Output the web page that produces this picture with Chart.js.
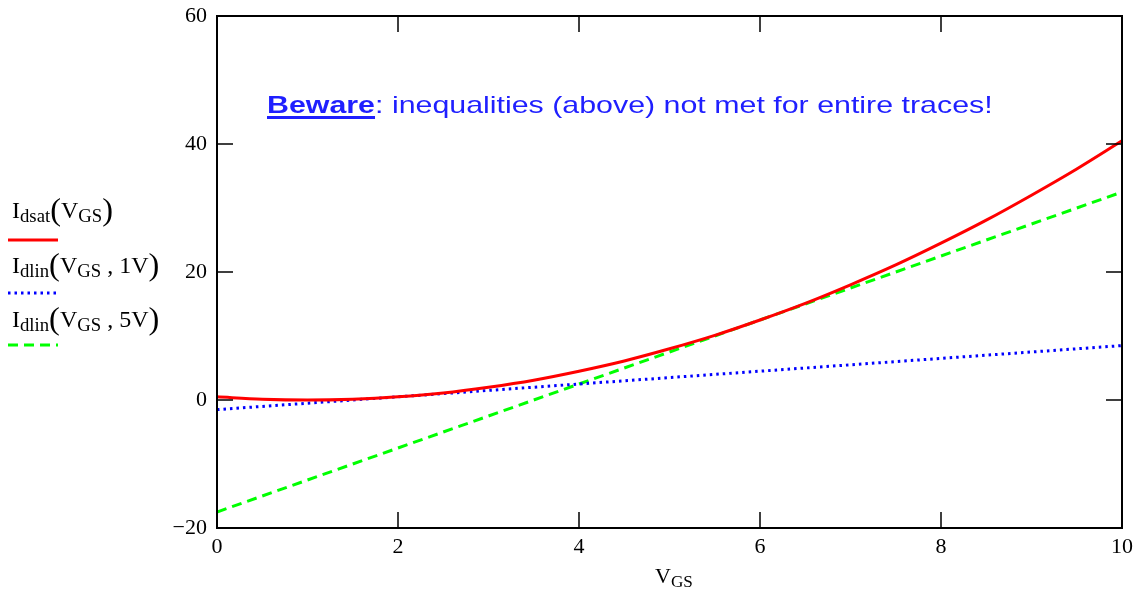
<!DOCTYPE html>
<html>
<head>
<meta charset="utf-8">
<script src="https://cdn.jsdelivr.net/npm/chart.js@4.4.0/dist/chart.umd.min.js"></script>
<style>
body { margin: 0; background: #fff; }
#wrap { position: relative; width: 1147px; height: 598px; }
.serif { position: absolute; font-family: 'Liberation Serif', 'Times New Roman', serif; color: #000; white-space: nowrap; line-height: 1; font-size: 24px; }
.serif sub { font-size: 0.78em; vertical-align: -0.22em; line-height: 0; }
.paren { font-size: 1.35em; vertical-align: -0.07em; line-height: 0; }
#note { position: absolute; left: 267px; top: 91px; font-family: 'Liberation Sans', Arial, sans-serif; font-size: 24px; color: #1f1fff; white-space: nowrap; transform: scaleX(1.265); transform-origin: left top; }
#note b { text-decoration: underline; text-decoration-thickness: 3px; text-underline-offset: 3px; }
</style>
</head>
<body>
<div id="wrap">
  <canvas id="myChart" width="1147" height="598"></canvas>
  <div class="serif" style="left:12px; top:198px;">I<sub>dsat</sub><span class="paren">(</span>V<sub>GS</sub><span class="paren">)</span></div>
  <div class="serif" style="left:12px; top:253px;">I<sub>dlin</sub><span class="paren">(</span>V<sub>GS</sub> , 1V<span class="paren">)</span></div>
  <div class="serif" style="left:12px; top:307px;">I<sub>dlin</sub><span class="paren">(</span>V<sub>GS</sub> , 5V<span class="paren">)</span></div>
  <div class="serif" style="left:655px; top:565px; font-size:22px;">V<sub>GS</sub></div>
  <div id="note"><b>Beware</b>: inequalities (above) not met for entire traces!</div>
</div>
<script>
// values
const vgs = [0, 0.5, 1, 1.5, 2, 2.5, 3, 3.5, 4, 4.5, 5, 5.5, 6, 6.5, 7, 7.5, 8, 8.5, 9, 9.5, 10];
const idsat = [0.5, 0.13, 0, 0.13, 0.5, 1.1, 2, 3.1, 4.5, 6.1, 8, 10.1, 12.5, 15.1, 18, 21.1, 24.5, 28.1, 32, 36.1, 40.5];
const linX = [0, 2, 4, 6, 8, 10];
const idlin1 = [-1.5, 0.5, 2.5, 4.5, 6.5, 8.5];
const idlin5 = [-17.5, -7.5, 2.5, 12.5, 22.5, 32.5];
const xTicks = [0, 2, 4, 6, 8, 10];
const yTicks = [-20, 0, 20, 40, 60];

function pts(xs, ys) {
    return xs.map((v, i) => ({x: v, y: ys[i]}));
}

// inward ticks + box
const frameTicks = {
    id: 'frameTicks',
    afterDatasetsDraw(chart) {
        const {ctx, chartArea: a, scales} = chart;
        const x = scales.x, y = scales.y;
        ctx.save();
        ctx.strokeStyle = '#000';
        ctx.lineWidth = 1.5;
        ctx.beginPath();
        xTicks.forEach(v => {
            const px = x.getPixelForValue(v);
            ctx.moveTo(px, a.bottom); ctx.lineTo(px, a.bottom - 16);
            ctx.moveTo(px, a.top); ctx.lineTo(px, a.top + 16);
        });
        yTicks.forEach(v => {
            const py = y.getPixelForValue(v);
            ctx.moveTo(a.left, py); ctx.lineTo(a.left + 16, py);
            ctx.moveTo(a.right, py); ctx.lineTo(a.right - 16, py);
        });
        ctx.stroke();
        ctx.lineWidth = 2;
        ctx.strokeRect(a.left, a.top, a.width, a.height);
        ctx.restore();
    },
    afterDraw(chart) {
        // legend line samples under the html labels
        const ctx = chart.ctx;
        const rows = [240, 293, 345];
        chart.data.datasets.forEach((ds, i) => {
            ctx.save();
            ctx.strokeStyle = ds.borderColor;
            ctx.lineWidth = ds.borderWidth;
            ctx.setLineDash(ds.borderDash || []);
            ctx.beginPath();
            ctx.moveTo(8, rows[i]);
            ctx.lineTo(58, rows[i]);
            ctx.stroke();
            ctx.restore();
        });
    }
};

new Chart(document.getElementById('myChart'), {
    type: 'scatter',
    data: {
        datasets: [
            {
                label: 'Idsat(VGS)',
                data: pts(vgs, idsat),
                showLine: true,
                borderColor: '#ff0000',
                borderWidth: 3,
                pointRadius: 0,
                cubicInterpolationMode: 'monotone'
            },
            {
                label: 'Idlin(VGS, 1V)',
                data: pts(linX, idlin1),
                showLine: true,
                borderColor: '#0000ff',
                borderWidth: 3,
                borderDash: [2.5, 4],
                pointRadius: 0
            },
            {
                label: 'Idlin(VGS, 5V)',
                data: pts(linX, idlin5),
                showLine: true,
                borderColor: '#00ff00',
                borderWidth: 3,
                borderDash: [10, 6],
                pointRadius: 0
            }
        ]
    },
    options: {
        responsive: false,
        animation: false,
        layout: {
            padding: {top: 16, right: 25, left: 0, bottom: 0}
        },
        plugins: {
            legend: {display: false},
            tooltip: {enabled: false}
        },
        scales: {
            x: {
                type: 'linear',
                min: 0,
                max: 10,
                afterFit: s => { s.height = 70; },
                grid: {display: false, drawTicks: false},
                border: {display: false},
                ticks: {
                    stepSize: 2,
                    padding: 6,
                    color: '#000',
                    font: {family: 'Liberation Serif', size: 22}
                }
            },
            y: {
                min: -20,
                max: 60,
                afterFit: s => { s.width = 217; s.paddingTop = 0; s.paddingBottom = 0; },
                grid: {display: false, drawTicks: false},
                border: {display: false},
                ticks: {
                    stepSize: 20,
                    padding: 10,
                    color: '#000',
                    font: {family: 'Liberation Serif', size: 22},
                    callback: v => v < 0 ? '\u2212' + Math.abs(v) : String(v)
                }
            }
        }
    },
    plugins: [frameTicks]
});
</script>
</body>
</html>
